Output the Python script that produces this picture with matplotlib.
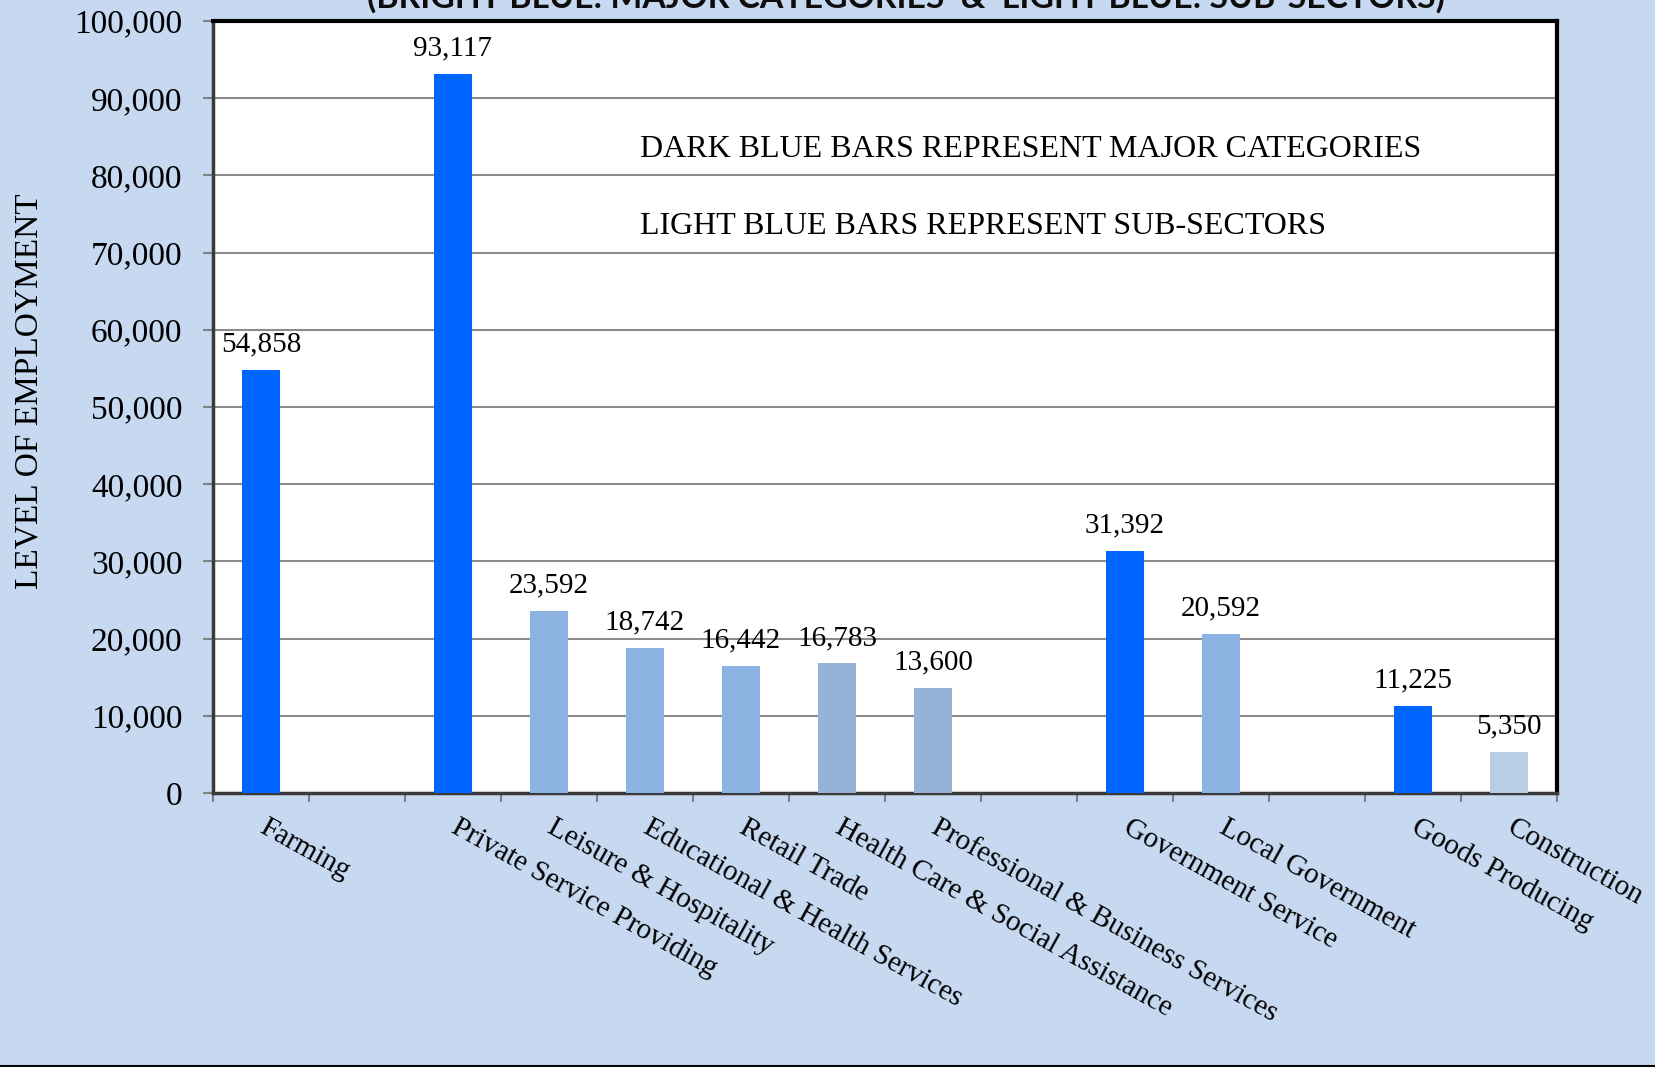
import numpy as np
import matplotlib
matplotlib.use("Agg")
import matplotlib.pyplot as plt
from matplotlib.lines import Line2D

# employment by sector; blank slots leave gaps between the groups
categories = ["Farming", "", "Private Service Providing", "Leisure & Hospitality",
              "Educational & Health Services", "Retail Trade",
              "Health Care & Social Assistance", "Professional & Business Services", "",
              "Government Service", "Local Government", "", "Goods Producing", "Construction"]
employment = [54858, None, 93117, 23592, 18742, 16442, 16783, 13600, None,
              31392, 20592, None, 11225, 5350]
yticks = [0, 10000, 20000, 30000, 40000, 50000, 60000, 70000, 80000, 90000, 100000]

BRIGHT = "#0066FF"
LIGHT = "#8DB3E2"
LIGHT2 = "#95B3D7"
PALE = "#B9CDE5"
bar_colors = [BRIGHT, "none", BRIGHT, LIGHT, LIGHT, LIGHT, LIGHT2, LIGHT2, "none",
              BRIGHT, LIGHT, "none", BRIGHT, PALE]
BG = "#C6D9F1"

plt.rcParams["font.family"] = ["Liberation Serif", "DejaVu Serif"]

fig = plt.figure(figsize=(16.56, 10.67), dpi=100, facecolor=BG)
ax = fig.add_axes([0.1286, 0.2568, 0.9402 - 0.1286, 0.9803 - 0.2568])
ax.set_facecolor("white")

x = np.arange(len(categories))
vals = np.array([np.nan if v is None else v for v in employment], dtype=float)
ax.bar(x, np.nan_to_num(vals), width=0.4, color=bar_colors, zorder=3)

for xi, v in zip(x, employment):
    if v is None:
        continue
    ax.annotate(f"{v:,}", (xi, v), xytext=(0, 9), textcoords="offset points",
                ha="center", va="bottom", fontsize=21, zorder=4)

ax.set_xlim(-0.5, len(categories) - 0.5)
ax.set_ylim(0, 100000)
ax.set_yticks(yticks)
ax.set_yticklabels([f"{t:,}" for t in yticks], fontsize=24)
ax.yaxis.grid(True, color="#8c8c8c", lw=1.5, zorder=1)
ax.set_axisbelow(True)

# ticks sit between the slots
ax.set_xticks(np.arange(len(categories) + 1) - 0.5)
ax.set_xticklabels([])
ax.tick_params(axis="x", direction="out", length=6.5, width=1.5, color="#808080")
ax.tick_params(axis="y", direction="out", length=7, width=1.5, color="#808080", pad=15)

# slanted category names hang from under each bar
for xi, name in zip(x, categories):
    if not name:
        continue
    ax.annotate(name, (xi, 0), xycoords=("data", "axes fraction"),
                xytext=(5, -15.5), textcoords="offset points",
                rotation=-29, rotation_mode="anchor", ha="left", va="top",
                fontsize=21, annotation_clip=False)

for side in ("top", "right"):
    ax.spines[side].set_color("black")
    ax.spines[side].set_linewidth(3)
for side in ("left", "bottom"):
    ax.spines[side].set_color("#3a3a3a")
    ax.spines[side].set_linewidth(2.5)

ax.set_ylabel("LEVEL OF EMPLOYMENT", fontsize=24)
ax.yaxis.set_label_coords(-0.1256, 0.52)

ax.text(0.318, 0.834, "DARK BLUE BARS REPRESENT MAJOR CATEGORIES", transform=ax.transAxes,
        fontsize=23, va="center", ha="left")
ax.text(0.318, 0.734, "LIGHT BLUE BARS REPRESENT SUB-SECTORS", transform=ax.transAxes,
        fontsize=23, va="center", ha="left")

fig.text(0.547, 0.9925, "(BRIGHT BLUE: MAJOR CATEGORIES  &  LIGHT BLUE: SUB-SECTORS)",
         family="Lato", weight="bold", fontsize=24.3, ha="center", va="baseline",
         color="#0d0d0d")

fig.add_artist(Line2D([0, 1], [0.0012, 0.0012], transform=fig.transFigure,
                      color="black", lw=1.5))

fig.savefig("out.png", dpi=100, facecolor=BG)
